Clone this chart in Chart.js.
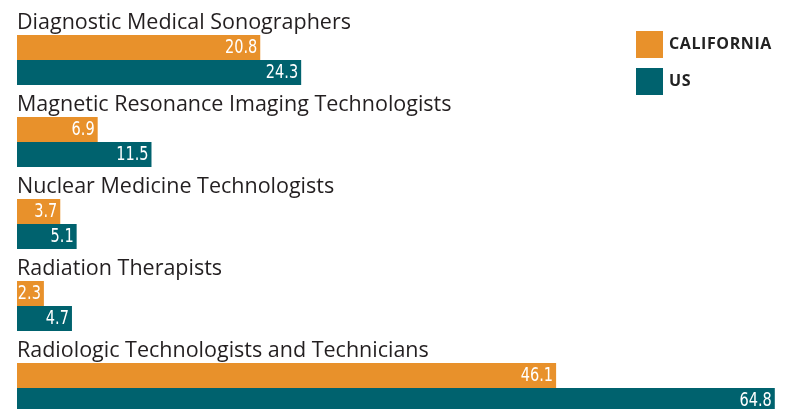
<!DOCTYPE html>
<html>
<head>
<meta charset="utf-8">
<script src="https://cdn.jsdelivr.net/npm/chart.js@4/dist/chart.umd.min.js"></script>
<style>
  html, body { margin: 0; padding: 0; background: #fff; overflow: hidden; }
  .wrap { position: relative; width: 790px; height: 429px; }
  .legend { position: absolute; left: 636px; top: 31px; font-family: "Open Sans", sans-serif; font-weight: 700; font-size: 16px; color: #222; letter-spacing: 0.6px; }
  .legend div { display: flex; align-items: center; height: 27px; margin-bottom: 10px; line-height: 1; }
  .legend span.box { display: inline-block; width: 27px; height: 27px; margin-right: 6px; }
  .legend span.txt { position: relative; top: -2px; }
</style>
</head>
<body>
<div class="wrap">
  <canvas id="barChart"></canvas>
  <div class="legend" id="legend"></div>
</div>
<script>
const categories = [
  "Diagnostic Medical Sonographers",
  "Magnetic Resonance Imaging Technologists",
  "Nuclear Medicine Technologists",
  "Radiation Therapists",
  "Radiologic Technologists and Technicians"
];
const californiaValues = [20.8, 6.9, 3.7, 2.3, 46.1];
const usValues = [24.3, 11.5, 5.1, 4.7, 64.8];
const seriesNames = ["CALIFORNIA", "US"];
const seriesColors = ["#E8912B", "#00626E"];

// category names above each pair of bars, values inside the bar ends
const labelPlugin = {
  id: "labels",
  afterDatasetsDraw(chart) {
    const ctx = chart.ctx;
    ctx.save();
    const first = chart.getDatasetMeta(0);
    ctx.fillStyle = "#231f20";
    ctx.font = "21.5px 'Open Sans', sans-serif";
    ctx.textAlign = "left";
    ctx.textBaseline = "alphabetic";
    first.data.forEach((bar, i) => {
      ctx.fillText(categories[i], chart.chartArea.left, bar.y - bar.height / 2 - 6);
    });
    ctx.fillStyle = "#fff";
    ctx.font = "19px 'DejaVu Sans Condensed', 'Liberation Sans Narrow', sans-serif";
    ctx.textAlign = "right";
    ctx.textBaseline = "middle";
    chart.data.datasets.forEach((ds, d) => {
      chart.getDatasetMeta(d).data.forEach((bar, i) => {
        ctx.save();
        ctx.translate(bar.x - 3, bar.y + 1);
        ctx.scale(0.85, 1); // squeeze to look like a condensed face
        ctx.fillText(ds.data[i].toFixed(1), 0, 0);
        ctx.restore();
      });
    });
    ctx.restore();
  }
};

const ctx = document.getElementById("barChart").getContext("2d");
new Chart(ctx, {
  type: "bar",
  data: {
    labels: categories,
    datasets: [
      { label: seriesNames[0], data: californiaValues, backgroundColor: seriesColors[0] },
      { label: seriesNames[1], data: usValues, backgroundColor: seriesColors[1] }
    ]
  },
  options: {
    indexAxis: "y",
    responsive: true,
    maintainAspectRatio: false,
    animation: false,
    layout: { padding: { left: 17, top: 19, right: 0, bottom: 0 } },
    datasets: { bar: { categoryPercentage: 0.61, barPercentage: 1.0 } },
    scales: {
      x: { display: false, min: 0, max: 66.1 },
      y: { display: false }
    },
    plugins: { legend: { display: false }, tooltip: { enabled: false } }
  },
  plugins: [labelPlugin]
});

const legend = document.getElementById("legend");
seriesNames.forEach((name, i) => {
  const row = document.createElement("div");
  row.innerHTML = '<span class="box" style="background:' + seriesColors[i] + '"></span><span class="txt">' + name + '</span>';
  legend.appendChild(row);
});
</script>
</body>
</html>
